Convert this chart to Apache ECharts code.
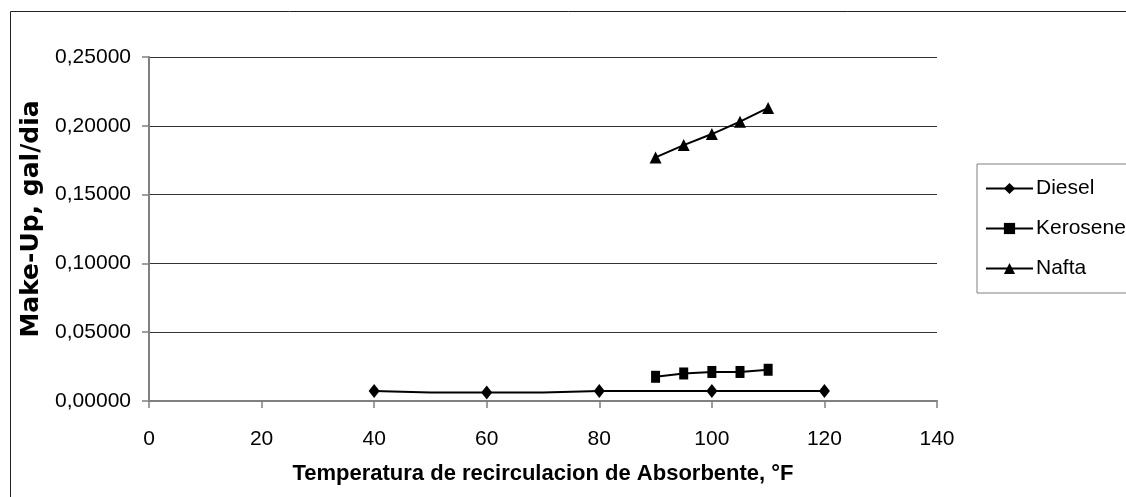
<!DOCTYPE html>
<html>
<head>
<meta charset="utf-8">
<script src="https://cdn.jsdelivr.net/npm/echarts@6/dist/echarts.min.js"></script>
<style>
html,body{margin:0;padding:0;background:#fff;}
#chart{width:1126px;height:497px;}
</style>
</head>
<body>
<div id="chart"></div>
<script>
// ---- data ----
const seriesNames = ['Diesel', 'Kerosene', 'Nafta'];
const dieselX = [40, 50, 60, 70, 80, 100, 120];
const dieselY = [0.0073, 0.0061, 0.0061, 0.0061, 0.0073, 0.0073, 0.0073];
const dieselMarked = [true, false, true, false, true, true, true];
const keroseneX = [90, 95, 100, 105, 110];
const keroseneY = [0.0176, 0.0200, 0.0211, 0.0211, 0.0227];
const naftaX = [90, 95, 100, 105, 110];
const naftaY = [0.177, 0.186, 0.194, 0.203, 0.213];
const xTicks = [0, 20, 40, 60, 80, 100, 120, 140];
const yTicks = [0, 0.05, 0.10, 0.15, 0.20, 0.25];
const xTitle = 'Temperatura de recirculacion de Absorbente, °F';
const yTitle = 'Make-Up, gal/dia';

function pts(xs, ys) { return xs.map((x, i) => [x, ys[i]]); }

const chart = echarts.init(document.getElementById('chart'), null, {renderer: 'canvas'});
const lineStyle = {color: '#000', width: 2};

chart.setOption({
  animation: false,
  backgroundColor: '#fff',
  grid: {left: 149, right: 189, top: 57, bottom: 96, containLabel: false},
  graphic: [{
    type: 'rect', left: 8, top: 9, silent: true,
    shape: {width: 1200, height: 600},
    style: {fill: 'none', stroke: '#222', lineWidth: 1}
  }],
  legend: {
    orient: 'vertical', left: 977, top: 164,
    padding: [14, 60, 14, 8],
    itemGap: 19, itemWidth: 47, itemHeight: 14,
    borderColor: '#808080', borderWidth: 1,
    textStyle: {fontFamily: 'Liberation Sans, Arial, sans-serif', fontSize: 21, color: '#000', padding: [0,0,0,-2]},
    data: seriesNames
  },
  xAxis: {
    type: 'value', min: xTicks[0], max: xTicks[xTicks.length - 1], interval: 20,
    name: xTitle, nameLocation: 'middle', nameGap: 62,
    nameTextStyle: {fontFamily: 'Liberation Sans, Arial, sans-serif', fontWeight: 'bold', fontSize: 22, color: '#000'},
    axisLine: {lineStyle: {color: '#808080', width: 2}},
    axisTick: {show: true, inside: false, length: 7, lineStyle: {color: '#808080', width: 1.5}},
    axisLabel: {margin: 28, fontFamily: 'Liberation Sans, Arial, sans-serif', fontSize: 21, color: '#000'},
    splitLine: {show: false}
  },
  yAxis: {
    type: 'value', min: yTicks[0], max: yTicks[yTicks.length - 1], interval: 0.05,
    name: yTitle, nameLocation: 'middle', nameGap: 100,
    nameTextStyle: {fontFamily: 'DejaVu Sans, sans-serif', fontWeight: 'bold', fontSize: 25, color: '#000', padding: [0, 0, 0, 20]},
    axisLine: {show: true, lineStyle: {color: '#808080', width: 2}},
    axisTick: {show: true, inside: false, length: 7, lineStyle: {color: '#808080', width: 1.5}},
    axisLabel: {margin: 18, fontFamily: 'Liberation Sans, Arial, sans-serif', fontSize: 21, color: '#000',
      formatter: v => v.toFixed(5).replace('.', ',')},
    splitLine: {show: true, lineStyle: {color: '#333', width: 1}}
  },
  series: [
    {
      name: seriesNames[0], type: 'line', symbol: 'diamond', symbolSize: [11, 14],
      itemStyle: {color: '#000'}, lineStyle: lineStyle,
      data: pts(dieselX, dieselY).map((p, i) => dieselMarked[i] ? {value: p} : {value: p, symbol: 'none'})
    },
    {
      name: seriesNames[1], type: 'line', symbol: 'rect', symbolSize: [9, 12],
      itemStyle: {color: '#000'}, lineStyle: lineStyle,
      data: pts(keroseneX, keroseneY)
    },
    {
      name: seriesNames[2], type: 'line', symbol: 'triangle', symbolSize: [12, 12],
      itemStyle: {color: '#000'}, lineStyle: lineStyle,
      data: pts(naftaX, naftaY)
    }
  ]
});
</script>
</body>
</html>
